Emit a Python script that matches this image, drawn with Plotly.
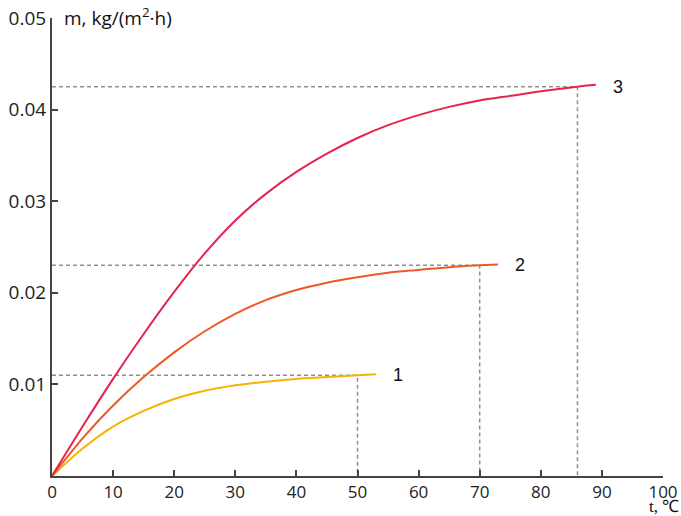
import plotly.graph_objects as go

# Data
t3 = [0, 5, 10, 15, 20, 25, 30, 35, 40, 45, 50, 55, 60, 65, 70, 75, 80, 86, 89]
m3 = [0, 0.0054, 0.0106, 0.0155, 0.0201, 0.0243, 0.0279, 0.0308, 0.0332, 0.0352,
      0.0369, 0.0383, 0.0394, 0.0403, 0.0410, 0.0415, 0.0420, 0.0425, 0.0427]
t2 = [0, 5, 10, 15, 20, 25, 30, 35, 40, 45, 50, 55, 60, 65, 70, 73]
m2 = [0, 0.0041, 0.0077, 0.0108, 0.0135, 0.0158, 0.0177, 0.0192, 0.0203, 0.0211,
      0.0217, 0.0222, 0.0225, 0.0228, 0.0230, 0.0231]
t1 = [0, 5, 10, 15, 20, 25, 30, 35, 40, 45, 50, 53]
m1 = [0, 0.0030, 0.0054, 0.0071, 0.0084, 0.0093, 0.0099, 0.0103, 0.0106, 0.0108,
      0.0110, 0.0111]

curve_labels = ["1", "2", "3"]
mark_t = [50, 70, 86]
mark_m = [0.011, 0.023, 0.0425]
label_t = [56.6, 76.6, 92.7]

x_ticks = [0, 10, 20, 30, 40, 50, 60, 70, 80, 90, 100]
y_ticks = [0.01, 0.02, 0.03, 0.04, 0.05]
y_ticktext = ["0.01", "0.02", "0.03", "0.04", "0.05"]

colors = ["#f5b300", "#ec5a24", "#e6234f"]
dash_color = "#8f8f8f"

fig = go.Figure()

# dashed guide lines
for tm, mm in zip(mark_t, mark_m):
    fig.add_trace(go.Scatter(x=[0, tm, tm], y=[mm, mm, 0], mode="lines",
                             line=dict(color=dash_color, width=1.5, dash="4px,3px"),
                             hoverinfo="skip", showlegend=False))

for tx, my, c in zip([t1, t2, t3], [m1, m2, m3], colors):
    fig.add_trace(go.Scatter(x=tx, y=my, mode="lines",
                             line=dict(color=c, width=2, shape="spline", smoothing=0.7),
                             showlegend=False))

for lab, lt, mm in zip(curve_labels, label_t, mark_m):
    fig.add_annotation(x=lt, y=mm, text=lab, showarrow=False, xanchor="center", yanchor="middle",
                       font=dict(family="Liberation Sans, Arial", size=18, color="#111"))

fig.add_annotation(x=0.016, y=1.0, xref="paper", yref="paper", text="m, kg/(m<sup>2</sup>·h)",
                   showarrow=False, xanchor="left", yanchor="middle", yshift=1,
                   font=dict(family="Open Sans, Liberation Sans", size=19, color="#111"))
fig.add_annotation(x=1.028, y=-0.0862, xref="paper", yref="paper", text="t, ℃", showarrow=False,
                   xanchor="right", yanchor="bottom", borderpad=0, yshift=-2,
                   font=dict(family="Liberation Serif, Times New Roman", size=17, color="#111"))

fig.update_xaxes(range=[0, 100], tickvals=x_ticks, ticks="inside", ticklen=6, tickwidth=1.5,
                 tickcolor="#444", showline=True, linecolor="#444", linewidth=2,
                 showgrid=False, zeroline=False, automargin=False,
                 tickfont=dict(family="Open Sans, DejaVu Sans", size=17, color="#222"))
fig.update_yaxes(range=[0, 0.05], tickvals=y_ticks, ticktext=y_ticktext, ticks="inside", ticklen=6,
                 tickwidth=1.5, tickcolor="#444", showline=True, linecolor="#444", linewidth=2,
                 showgrid=False, zeroline=False, automargin=False,
                 tickfont=dict(family="Open Sans, DejaVu Sans", size=19, color="#222"))

fig.update_layout(width=681, height=516, margin=dict(l=52, r=18, t=18, b=40),
                  plot_bgcolor="white", paper_bgcolor="white")

fig.write_html("out.html")
